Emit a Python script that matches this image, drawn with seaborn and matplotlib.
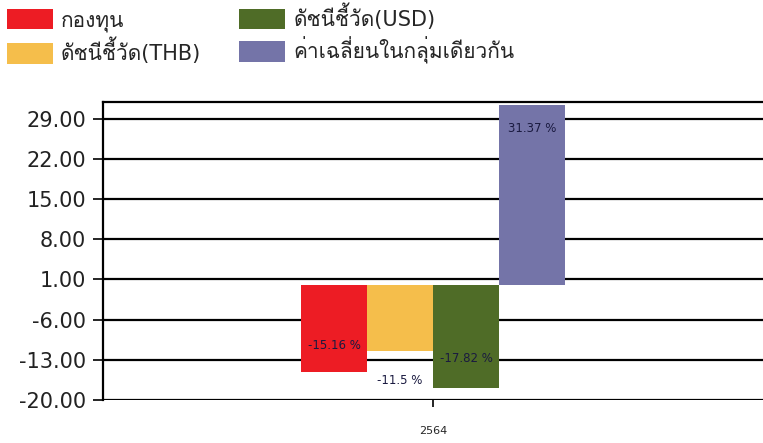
import numpy as np
import pandas as pd
import matplotlib
matplotlib.use("Agg")
import matplotlib.pyplot as plt
import seaborn as sns
from matplotlib import font_manager, ft2font
from matplotlib.patches import Patch

# ข้อมูลของกราฟ
years = ["2564"]
series = ["กองทุน", "ดัชนีชี้วัด(THB)", "ดัชนีชี้วัด(USD)", "ค่าเฉลี่ยนในกลุ่มเดียวกัน"]
values = [-15.16, -11.5, -17.82, 31.37]
value_labels = ["-15.16 %", "-11.5 %", "-17.82 %", "31.37 %"]
colors = ["#ED1C24", "#F5BE4B", "#4F6C27", "#7474A8"]
yticks = [-20, -13, -6, 1, 8, 15, 22, 29]


def find_thai_font():
    """
    Procura uma fonte instalada que tenha glifos tailandeses
    """
    for f in font_manager.fontManager.ttflist:
        try:
            if ord("ก") in ft2font.FT2Font(f.fname).get_charmap():
                return f.name
        except Exception:
            continue
    return None


sns.set_style("white")
thai = find_thai_font()
families = ["DejaVu Sans"]
if thai:
    families = ["DejaVu Sans", thai]
plt.rcParams["font.family"] = families

df = pd.DataFrame({
    "year": years * len(series),
    "series": series,
    "value": values,
})

fig = plt.figure(figsize=(7.63, 4.43), dpi=100)
ax = fig.add_axes([0.135, 0.097, 0.865, 0.673])

sns.barplot(data=df, x="year", y="value", hue="series", hue_order=series,
            palette=colors, width=0.4, saturation=1, legend=False, ax=ax,
            linewidth=0, zorder=3)

ax.set_ylim(-20, 31.9)
ax.set_xlim(-0.5, 0.5)
ax.set_yticks(yticks)
ax.set_yticklabels([f"{v:.2f}" for v in yticks], fontsize=15, color="#222222")
ax.tick_params(axis="y", length=7, width=1.2, color="black", pad=5, left=True)
ax.tick_params(axis="x", length=5, width=1.2, color="black", labelsize=8,
               pad=14, bottom=True)
ax.set_xlabel("")
ax.set_ylabel("")

for y in yticks:
    ax.axhline(y, color="black", linewidth=1.6, zorder=1)
ax.spines["left"].set_linewidth(1.6)
ax.spines["top"].set_linewidth(1.6)
ax.spines["left"].set_color("black")
ax.spines["top"].set_color("black")
ax.spines["right"].set_visible(False)
ax.spines["bottom"].set_visible(False)

# rótulos dos valores (dentro ou fora da barra)
offsets = [19, -21, 21, -17]
for patch, lab, off, v in zip(ax.patches, value_labels, offsets, values):
    x = patch.get_x() + patch.get_width() / 2
    y0 = patch.get_y()
    y1 = patch.get_y() + patch.get_height()
    end = min(y0, y1) if v < 0 else max(y0, y1)
    ax.annotate(lab, (x, end), xytext=(0, off), textcoords="offset points",
                ha="center", va="center", fontsize=8.5, color="#1a1a40", zorder=5)

handles = [Patch(facecolor=c, edgecolor="none") for c in colors]
fig.legend(handles, series, loc="upper left", bbox_to_anchor=(-0.01, 1.025),
           ncol=2, frameon=False, fontsize=15, handlelength=2.2,
           handleheight=1.15, handletextpad=0.4, labelspacing=0.3,
           columnspacing=1.83, borderaxespad=0.3)

fig.savefig("out.png", dpi=100)
